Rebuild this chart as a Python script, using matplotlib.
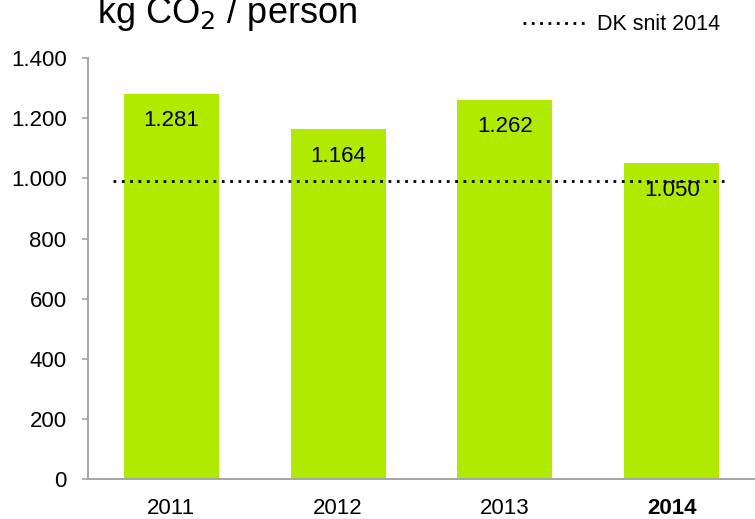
import matplotlib.pyplot as plt
from matplotlib.ticker import FuncFormatter

plt.rcParams['font.family'] = ['Liberation Sans', 'DejaVu Sans']

years = ["2011", "2012", "2013", "2014"]
values = [1281, 1164, 1262, 1050]
dk_avg = 991
yticks = [0, 200, 400, 600, 800, 1000, 1200, 1400]


def dk_fmt(v, pos=None):
    return f"{int(v):,}".replace(",", ".")


fig = plt.figure(figsize=(7.55, 5.19), dpi=100)
ax = fig.add_axes([0.1166, 0.077, 0.8834, 0.811])

x = list(range(len(years)))
ax.bar(x, values, width=0.57, color="#b0ea00")
for xi, v in zip(x, values):
    ax.text(xi, v - 55, dk_fmt(v), ha="center", va="top", fontsize=16)

dots = (0, (1, 2))
ax.axhline(dk_avg, xmin=0.0375, xmax=0.953, color="black", linestyle=dots, linewidth=2)

ax.set_xlim(-0.5, 3.5)
ax.set_ylim(0, 1400)
ax.set_yticks(yticks)
ax.yaxis.set_major_formatter(FuncFormatter(dk_fmt))
ax.set_xticks(x)
ax.set_xticklabels(years)
ax.get_xticklabels()[-1].set_fontweight("bold")

for side in ("top", "right"):
    ax.spines[side].set_visible(False)
for side in ("left", "bottom"):
    ax.spines[side].set_color("#a6a6a6")
    ax.spines[side].set_linewidth(1.4)
ax.tick_params(axis="y", length=4.5, width=1.2, color="#a6a6a6", labelsize=16, pad=11)
ax.tick_params(axis="x", length=0, labelsize=16, pad=14)

fig.text(0.301, 1 - 23 / 519, "kg CO$_2$ / person", ha="center", va="baseline", fontsize=26)

# legend entry, top right
fig.legend(handles=[plt.Line2D([], [], color="black", linestyle=dots, linewidth=2)],
           labels=["DK snit 2014"], loc="center right", bbox_to_anchor=(0.954, 0.952),
           frameon=False, fontsize=15.5, handlelength=3.0, handletextpad=0.45,
           borderpad=0, borderaxespad=0)

fig.savefig("out.png", dpi=100)
